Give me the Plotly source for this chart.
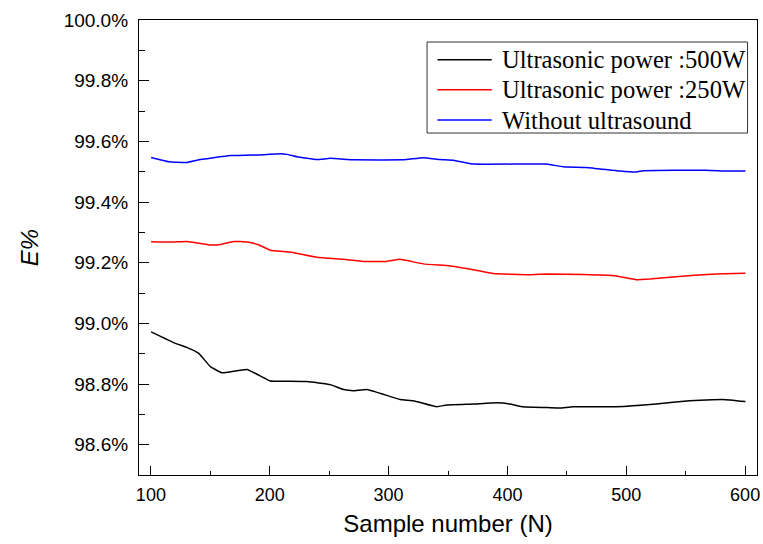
import plotly.graph_objects as go

# Ultrasonic power 500 W (black)
x_500 = [100.2, 120.7, 130.5, 140.3, 150.1, 159.9, 180.9, 200.5, 214.5, 231.3, 250.9, 262.1,
         270.4, 281.9, 309.7, 320.9, 340.5, 348.9, 371.3, 390.9, 402.1, 413.3, 435.7, 444.1,
         455.3, 491.7, 525.3, 553.3, 581.3, 600.3]
y_500 = [98.972, 98.934, 98.920, 98.901, 98.857, 98.837, 98.848, 98.810, 98.809, 98.808, 98.798, 98.782,
         98.778, 98.782, 98.749, 98.745, 98.725, 98.731, 98.734, 98.738, 98.734, 98.725, 98.722, 98.721,
         98.725, 98.725, 98.734, 98.745, 98.749, 98.742]

# Ultrasonic power 250 W (red)
x_250 = [100.2, 117.9, 130.5, 150.1, 158.5, 169.6, 180.9, 190.6, 200.5, 217.3, 239.7, 262.1,
         278.8, 298.5, 309.7, 329.2, 351.7, 371.3, 388.1, 418.9, 432.9, 463.7, 488.9, 508.5,
         519.7, 539.3, 575.7, 600.3]
y_250 = [99.269, 99.268, 99.270, 99.258, 99.260, 99.270, 99.268, 99.259, 99.241, 99.235, 99.218, 99.211,
         99.204, 99.204, 99.211, 99.196, 99.189, 99.177, 99.164, 99.160, 99.163, 99.161, 99.158, 99.144,
         99.146, 99.153, 99.163, 99.165]

# Without ultrasound (blue)
x_none = [100.2, 115.0, 130.5, 138.9, 166.9, 194.9, 208.9, 214.5, 222.9, 239.7, 250.9, 270.4,
          312.5, 329.2, 343.3, 354.5, 371.3, 432.9, 446.9, 466.5, 494.5, 508.5, 514.1, 567.3,
          584.1, 600.3]
y_none = [99.547, 99.533, 99.530, 99.538, 99.553, 99.556, 99.559, 99.557, 99.549, 99.540, 99.544, 99.539,
          99.539, 99.546, 99.540, 99.538, 99.525, 99.525, 99.516, 99.514, 99.502, 99.499, 99.503, 99.505,
          99.502, 99.502]

series_names = ["Ultrasonic power :500W", "Ultrasonic power :250W", "Without ultrasound"]
series_colors = ["#000000", "#ff0000", "#0000ff"]
x_ticks = [100, 200, 300, 400, 500, 600]
y_ticks = [98.6, 98.8, 99.0, 99.2, 99.4, 99.6, 99.8, 100.0]
y_tick_labels = ["98.6%", "98.8%", "99.0%", "99.2%", "99.4%", "99.6%", "99.8%", "100.0%"]

fig = go.Figure()
for xs, ys, name, col in zip([x_500, x_250, x_none], [y_500, y_250, y_none], series_names, series_colors):
    fig.add_trace(go.Scatter(x=xs, y=ys, name=name, mode="lines", showlegend=False,
                             line=dict(color=col, width=1.5, shape="spline", smoothing=0.3)))

# Legend box drawn in paper coordinates (Origin-style legend)
leg_x0, leg_x1, leg_y0, leg_y1 = 0.4661, 0.9847, 0.7516, 0.9516
row_y = [0.9127, 0.8468, 0.7802]
line_x0, line_x1, text_x = 0.4830, 0.5708, 0.5840
fig.add_shape(type="rect", xref="paper", yref="paper", x0=leg_x0, x1=leg_x1, y0=leg_y0, y1=leg_y1,
              line=dict(color="#333333", width=1), fillcolor="white", layer="above")
for name, col, ry in zip(series_names, series_colors, row_y):
    fig.add_shape(type="line", xref="paper", yref="paper", x0=line_x0, x1=line_x1, y0=ry, y1=ry,
                  line=dict(color=col, width=1.5), layer="above")
    fig.add_annotation(xref="paper", yref="paper", x=text_x, y=ry, xanchor="left", yanchor="middle",
                       text=name, showarrow=False,
                       font=dict(family="Liberation Serif, Times New Roman, serif", size=24.6, color="#000000"))

x_tick_font = dict(family="Liberation Sans, Arial, sans-serif", size=18, color="#000000")
y_tick_font = dict(family="Liberation Sans, Arial, sans-serif", size=19, color="#000000")
title_font = dict(family="Liberation Sans, Arial, sans-serif", size=24, color="#000000")

fig.update_layout(
    width=763, height=544,
    margin=dict(l=138.5, r=5.5, t=20, b=69),
    paper_bgcolor="white", plot_bgcolor="white",
    showlegend=False,
    xaxis=dict(
        range=[90, 610], tickvals=x_ticks, ticktext=[str(v) for v in x_ticks],
        ticks="inside", ticklen=9, tickwidth=1, tickcolor="#000000",
        minor=dict(ticks="inside", ticklen=4, dtick=50, tick0=100, tickcolor="#000000", showgrid=False),
        showline=True, linecolor="#000000", linewidth=1.2, mirror=True,
        showgrid=False, zeroline=False, tickfont=x_tick_font, ticklabelstandoff=3,
        automargin=False, ticklabeloverflow="allow",
        title=dict(text="Sample number (N)", font=title_font, standoff=11),
    ),
    yaxis=dict(
        range=[98.5, 100.0], tickvals=y_ticks, ticktext=y_tick_labels,
        ticks="inside", ticklen=10, tickwidth=1, tickcolor="#000000",
        minor=dict(ticks="inside", ticklen=6, dtick=0.1, tick0=98.5, tickcolor="#000000", showgrid=False),
        showline=True, linecolor="#000000", linewidth=1.2, mirror=True,
        showgrid=False, zeroline=False, tickfont=y_tick_font, ticklabelstandoff=6,
        automargin=False,
        title=dict(text="<i>E%</i>", font=title_font, standoff=18),
    ),
)

# remove the default 8px page margin so the 763x544 figure fills the window exactly
fig.write_html("out.html", config={"displayModeBar": False},
               post_script="document.body.style.margin='0px'; document.body.style.overflow='hidden';")
